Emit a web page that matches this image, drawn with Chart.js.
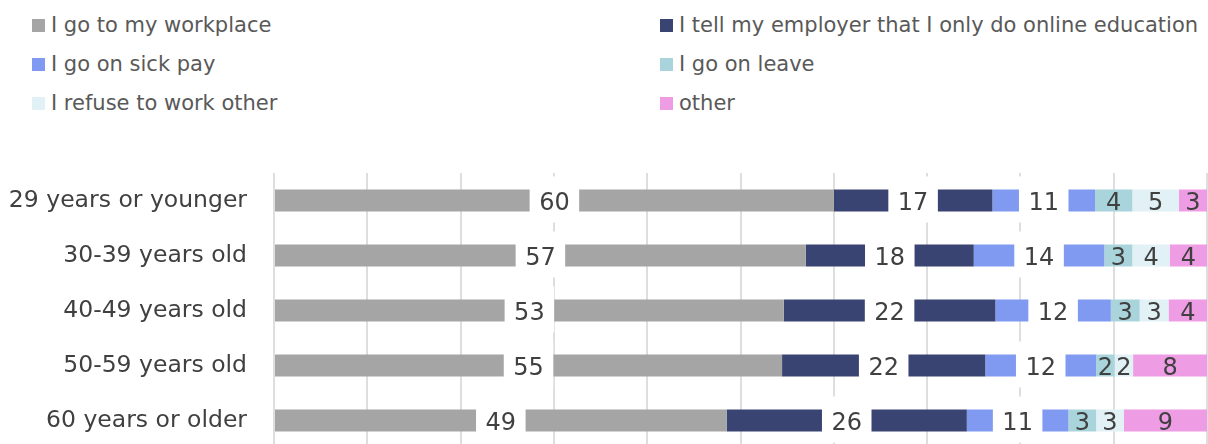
<!DOCTYPE html>
<html>
<head>
<meta charset="utf-8">
<script src="https://cdn.jsdelivr.net/npm/chart.js@4"></script>
<style>
    html, body {
        margin: 0;
        padding: 0;
        background: #ffffff;
        overflow: hidden;
    }
    .wrap {
        position: relative;
        width: 1208px;
        height: 444px;
    }
    #answersChart {
        position: absolute;
        left: 0;
        top: 0;
    }
    .legend-item {
        position: absolute;
        height: 26px;
        display: flex;
        align-items: center;
        font-family: "DejaVu Sans", sans-serif;
        font-size: 21px;
        color: #595959;
        white-space: nowrap;
    }
    .legend-item span {
        display: inline-block;
        width: 13px;
        height: 13px;
        margin-right: 6px;
    }
</style>
</head>
<body>
<div class="wrap">
    <div id="legend"></div>
    <canvas id="answersChart" width="1208" height="448"></canvas>
</div>
<script>
const ageGroups = ['29 years or younger', '30-39 years old', '40-49 years old', '50-59 years old', '60 years or older'];
const answers = [
    'I go to my workplace',
    'I tell my employer that I only do online education',
    'I go on sick pay',
    'I go on leave',
    'I refuse to work other',
    'other'
];

const workplace = [60, 57, 53, 55, 49];
const onlineOnly = [17, 18, 22, 22, 26];
const sickPay = [11, 14, 12, 12, 11];
const leave = [4, 3, 3, 2, 3];
const refuse = [5, 4, 3, 2, 3];
const other = [3, 4, 4, 8, 9];

const series = [workplace, onlineOnly, sickPay, leave, refuse, other];
const colors = ['#a5a5a5', '#3a4472', '#809af2', '#a9d4db', '#e1f1f6', '#ee9ce4'];
// the first three answers get their number on a white patch
const boxedLabels = [true, true, true, false, false, false];

// every row is stretched to 100%
const rowTotals = ageGroups.map((_, i) => series.reduce((sum, s) => sum + s[i], 0));

const datasets = series.map((values, index) => ({
    label: answers[index],
    data: values.map((v, i) => v / rowTotals[i] * 100),
    values: values,
    backgroundColor: colors[index],
    borderWidth: 0,
    barPercentage: 0.4,
    categoryPercentage: 1,
    boxed: boxedLabels[index]
}));

const valueLabels = {
    id: 'valueLabels',
    afterDatasetsDraw(chart) {
        const ctx = chart.ctx;
        ctx.save();
        ctx.font = '24px "DejaVu Sans", sans-serif';
        ctx.textAlign = 'center';
        ctx.textBaseline = 'alphabetic';
        chart.data.datasets.forEach((dataset, di) => {
            chart.getDatasetMeta(di).data.forEach((bar, i) => {
                const text = String(dataset.values[i]);
                const cx = (bar.x + bar.base) / 2;
                const cy = bar.y;
                if (dataset.boxed) {
                    const w = ctx.measureText(text).width + 19;
                    ctx.fillStyle = '#ffffff';
                    ctx.fillRect(cx - w / 2, cy - 24, w, 46);
                }
                ctx.fillStyle = '#404040';
                ctx.fillText(text, cx, cy + 9);
            });
        });
        ctx.restore();
    }
};

const chart = new Chart('answersChart', {
    type: 'bar',
    data: {
        labels: ageGroups,
        datasets: datasets
    },
    options: {
        indexAxis: 'y',
        responsive: false,
        animation: false,
        layout: {
            padding: { top: 173, right: 1, bottom: 0, left: 0 }
        },
        plugins: {
            legend: { display: false },
            tooltip: { enabled: false }
        },
        scales: {
            x: {
                stacked: true,
                min: 0,
                max: 100,
                ticks: { display: false, stepSize: 10 },
                grid: { color: '#dedede', lineWidth: 2, drawTicks: false },
                border: { display: false }
            },
            y: {
                stacked: true,
                grid: { display: false, drawTicks: false },
                border: { display: false },
                ticks: {
                    color: '#404040',
                    padding: 27,
                    font: { family: '"DejaVu Sans", sans-serif', size: 23.5 }
                },
                afterFit(scale) {
                    scale.width = 274;
                    scale.paddingTop = 0;
                    scale.paddingBottom = 0;
                }
            }
        }
    },
    plugins: [valueLabels]
});

// two-column legend, filled row by row
function renderLegend() {
    const legend = document.getElementById('legend');
    chart.data.datasets.forEach((dataset, index) => {
        const item = document.createElement('div');
        item.className = 'legend-item';
        item.style.left = (index % 2 === 0 ? 32 : 660) + 'px';
        item.style.top = (12 + Math.floor(index / 2) * 39) + 'px';
        item.innerHTML = `<span style="background:${dataset.backgroundColor}"></span>${dataset.label}`;
        legend.appendChild(item);
    });
}

renderLegend();
</script>
</body>
</html>
